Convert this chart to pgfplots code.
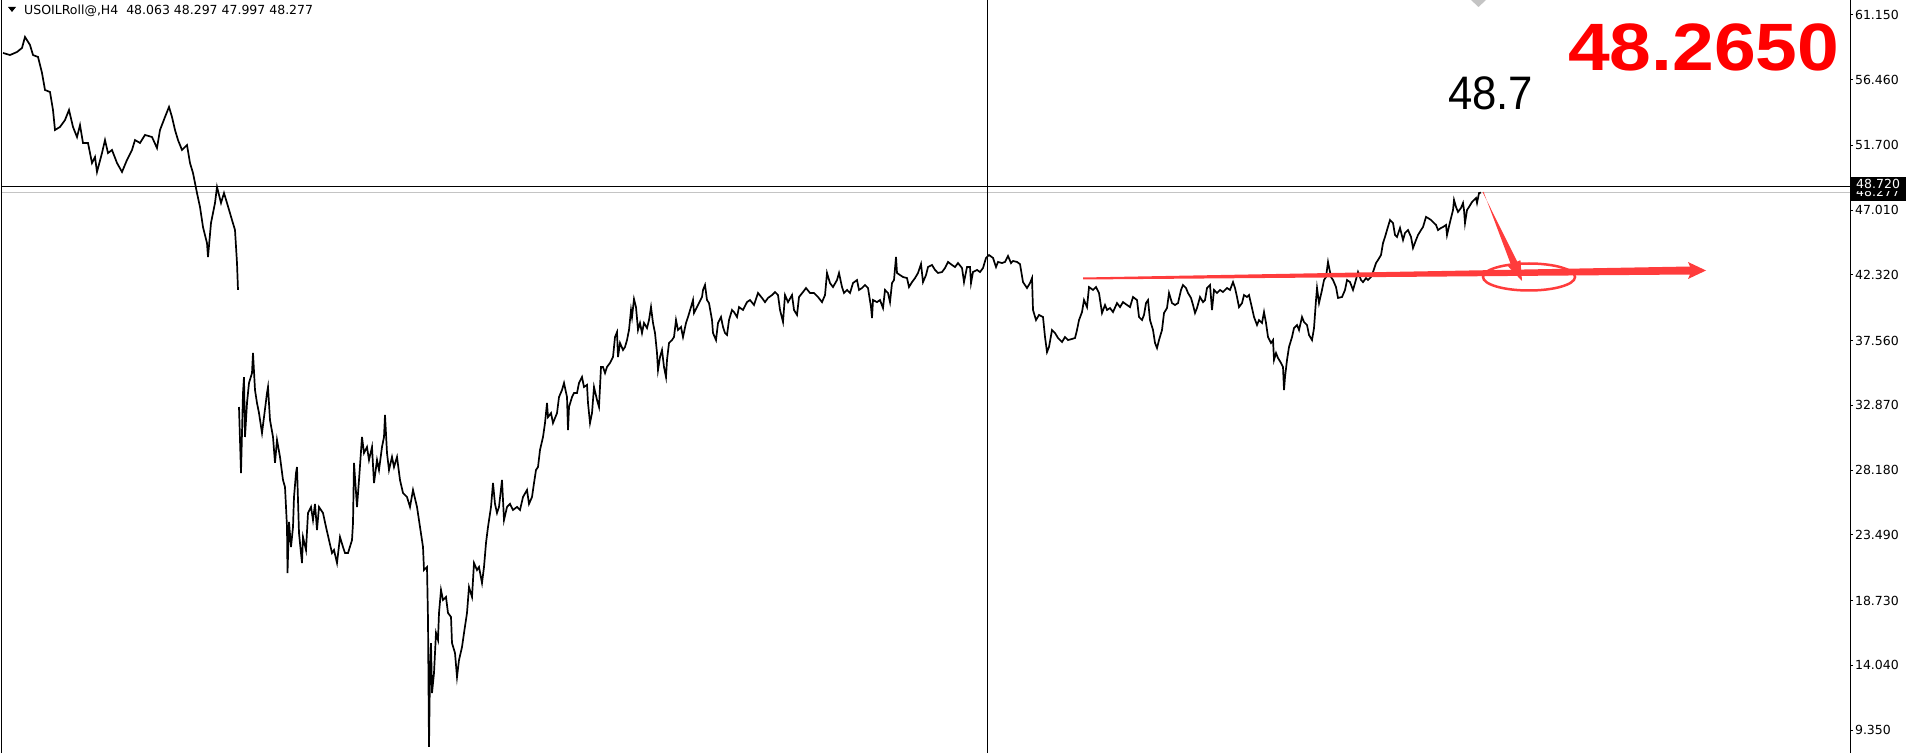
\documentclass[border=0pt]{standalone}
\usepackage{fontspec}
\setmainfont{DejaVu Sans}
\newfontfamily\arialfont{Liberation Sans}
\usepackage{graphicx}
\usepackage{pgfplots}
\usepackage{pgfplotstable}
\pgfplotsset{compat=1.18}
\definecolor{annot}{HTML}{FF3C3C}
\definecolor{bidline}{HTML}{C4C4C4}

% x = bar position (one unit per screen pixel), y = price
\pgfplotstableread{
x y
3 58.40
10 58.25
17 58.47
22 58.76
25 59.56
30 58.98
33 58.25
38 58.11
42 56.95
45 55.72
50 55.57
53 54.27
55 52.82
60 53.04
65 53.54
69 54.27
73 53.04
77 52.31
80 53.18
83 51.88
88 51.88
92 50.43
95 50.86
97 49.78
102 51.15
105 52.09
108 51.15
112 51.37
117 50.43
122 49.78
127 50.65
132 51.37
135 52.09
140 51.88
145 52.46
152 52.31
157 51.51
160 52.82
165 53.76
169 54.49
172 53.76
175 52.82
178 52.09
182 51.37
187 51.73
190 50.43
193 49.70
197 48.25
200 47.24
203 45.79
207 44.63
208 43.62
211 46.08
215 47.53
217 48.69
221 47.53
224 48.25
227 47.53
232 46.30
235 45.57
237 43.18
238 41.23
238.5 nan
239 32.75
241 27.97
243 33.76
244 34.92
245 30.58
247 33.04
249 34.49
252 35.21
253 36.66
255 33.98
257 33.04
259 32.31
262 30.87
264 32.02
267 33.76
268 34.20
270 31.81
273 30.58
275 28.70
277 30.36
280 29.13
283 27.46
285 26.95
287 24.06
287.5 20.72
289 24.42
291 22.61
293 24.06
294 26.23
296 27.97
297 28.40
298 26.01
299 23.62
302 21.45
303 23.33
306 22.39
308 25.07
311 25.51
313 24.56
315 25.73
317 23.84
319 25.51
323 25.07
326 24.06
329 23.11
332 22.17
334 22.39
337 21.45
340 23.33
343 22.61
345 22.17
348 22.17
352 23.11
353 24.35
354 28.70
357 25.51
359 27.46
362 30.58
364 29.42
367 29.85
369 28.91
372 29.85
374 27.24
377 28.91
379 28.19
382 29.85
384 30.58
385 32.17
387 29.42
389 28.19
392 29.13
394 28.40
397 29.13
400 27.46
403 26.52
407 26.23
410 25.51
413 26.74
417 25.51
420 24.06
423 22.61
424 20.94
427 21.16
428 17.32
429 8.12
430 13.69
431 15.65
432 12.03
434 13.48
436 16.38
438 15.87
439 17.83
441 19.49
443 18.77
446 18.99
448 17.83
451 17.54
452 15.65
455 14.93
457 13.19
459 14.42
462 15.36
464 16.38
467 17.83
469 19.71
472 18.99
474 21.45
477 20.94
479 21.16
482 20.00
484 21.16
486 22.90
488 24.06
491 25.51
493 27.24
495 25.73
497 25.07
499 25.51
502 27.46
504 24.56
507 25.51
510 25.73
513 25.29
517 25.51
520 25.29
523 26.23
527 26.74
529 25.73
532 26.23
534 27.24
536 28.19
538 28.40
540 29.64
543 30.58
545 31.59
547 33.04
548 32.02
551 32.31
553 31.59
557 32.31
559 33.47
562 33.98
564 34.49
567 33.47
568 31.08
569 32.75
572 33.47
574 33.76
577 33.76
579 34.49
582 34.92
584 34.20
587 34.35
588 33.04
590 31.59
592 32.31
594 34.20
597 33.26
599 32.75
601 35.65
603 35.65
605 35.21
607 35.65
610 35.94
613 36.37
615 37.82
617 38.18
618 36.37
620 37.39
623 36.88
625 37.10
627 37.60
629 38.33
631 39.78
632 39.27
634 40.57
636 39.99
638 38.33
640 38.84
642 38.11
644 38.84
647 38.47
649 39.05
651 39.99
653 38.84
655 38.11
657 36.66
658 35.43
660 36.37
662 36.88
664 35.65
666 34.92
667 36.16
669 37.39
672 37.60
674 37.82
676 39.05
678 38.33
681 38.55
683 37.82
686 38.84
688 39.27
691 39.99
693 40.50
694 39.56
697 39.99
699 40.28
702 40.72
703 41.23
705 41.59
707 40.50
709 40.28
712 39.05
713 38.11
716 37.60
718 38.84
721 39.27
723 38.55
725 38.11
727 37.97
729 39.05
732 39.78
734 39.63
737 39.27
739 39.99
743 39.78
747 40.35
750 40.50
754 40.14
758 41.01
762 40.65
765 40.35
768 40.65
772 40.86
775 41.08
778 40.86
780 39.78
783 38.91
785 40.86
788 40.35
792 40.86
794 39.78
797 39.42
799 40.72
803 41.08
806 41.37
810 41.01
814 41.01
818 40.72
822 40.35
825 40.86
827 42.46
830 41.73
833 41.44
837 41.95
839 42.46
842 41.44
844 41.01
847 41.23
850 41.01
853 41.73
857 41.95
859 41.23
862 41.37
865 41.59
868 41.37
871 39.99
872 39.20
873 40.50
877 40.35
880 40.50
883 39.92
885 41.23
888 41.01
890 40.35
892 41.73
894 41.95
896 43.62
897 42.46
900 42.31
903 42.17
907 42.09
909 41.44
912 41.80
915 42.09
918 42.46
921 43.11
923 41.80
926 42.31
928 42.89
932 43.04
935 42.68
938 42.46
942 42.53
945 42.82
948 43.26
952 43.04
955 42.89
958 43.18
962 42.82
964 41.80
967 42.89
970 42.89
971 41.73
973 42.53
977 42.68
980 42.53
983 42.82
986 43.55
989 43.76
993 43.55
996 42.89
998 43.26
1002 43.18
1005 43.26
1008 43.69
1011 43.18
1013 43.33
1017 43.26
1020 43.10
1023 41.80
1027 41.37
1030 41.73
1032 42.09
1033 39.78
1036 39.05
1039 39.42
1043 39.27
1045 37.82
1047 36.73
1049 37.10
1052 38.33
1055 38.11
1058 37.75
1062 37.46
1065 37.82
1068 37.60
1072 37.68
1075 37.75
1077 38.33
1079 39.05
1082 39.63
1084 40.50
1087 39.99
1089 41.44
1093 41.23
1096 41.44
1099 41.01
1102 39.56
1105 40.14
1107 39.78
1110 39.92
1113 39.63
1117 40.28
1120 39.99
1123 40.35
1127 40.14
1130 39.99
1133 40.72
1137 40.50
1139 39.27
1142 39.05
1144 39.42
1146 40.28
1148 40.50
1150 39.05
1153 38.33
1155 37.39
1157 37.02
1159 37.60
1162 38.33
1164 39.56
1167 39.92
1169 41.01
1172 40.28
1175 40.14
1178 40.28
1181 41.23
1183 41.59
1186 41.37
1188 41.01
1191 40.65
1193 40.14
1195 39.56
1197 39.92
1200 40.72
1203 40.35
1205 40.50
1207 41.37
1210 41.59
1212 39.78
1214 41.23
1217 41.01
1220 41.23
1223 41.08
1227 41.37
1230 41.23
1233 41.80
1235 41.37
1237 40.72
1239 39.99
1242 40.28
1244 40.86
1247 40.72
1249 40.86
1252 39.92
1254 39.27
1257 38.69
1259 39.05
1262 38.84
1264 39.63
1266 38.84
1268 37.82
1271 37.39
1273 37.60
1274 36.16
1276 36.66
1278 36.30
1281 35.94
1283 35.65
1284 33.98
1285 34.92
1287 36.16
1289 37.10
1292 37.82
1294 38.47
1297 38.69
1299 38.33
1302 39.27
1304 38.91
1307 38.69
1309 37.97
1312 37.60
1314 38.47
1316 40.50
1317 41.37
1319 40.28
1322 41.23
1324 41.95
1326 42.17
1328 43.26
1331 42.17
1333 41.95
1336 41.44
1338 40.65
1342 40.72
1345 41.23
1347 41.95
1350 41.80
1353 41.23
1355 41.73
1358 42.53
1361 41.95
1363 41.80
1366 42.09
1368 41.95
1371 42.17
1373 42.53
1376 43.18
1378 43.40
1381 43.76
1383 44.63
1385 45.07
1387 45.57
1390 46.30
1393 46.08
1395 45.21
1397 45.07
1400 45.72
1403 44.85
1405 45.36
1408 45.57
1411 45.07
1413 44.27
1416 44.85
1418 45.21
1421 45.57
1423 45.79
1426 46.52
1428 46.44
1431 46.30
1433 46.15
1436 45.94
1438 45.57
1441 45.72
1443 45.79
1446 45.94
1447 45.21
1450 46.15
1453 47.02
1454 47.75
1456 47.24
1458 46.88
1461 47.17
1463 47.53
1464 47.02
1465 46.08
1467 47.02
1469 47.24
1472 47.60
1474 47.75
1476 47.89
1477 47.53
1479 48.25
1481 48.28
}\pricedata

\begin{document}
\begin{tikzpicture}
\begin{axis}[
  at={(2pt,0pt)}, anchor=south west,
  scale only axis,
  width=1848pt, height=753pt,
  xmin=2, xmax=1850,
  ymin=7.684, ymax=62.237,
  enlargelimits=false,
  separate axis lines,
  x axis line style={draw=none},
  y axis line style={draw=black, line width=1pt},
  xtick=\empty,
  ytick={9.35,14.04,18.73,23.49,28.18,32.87,37.56,42.32,47.01,51.70,56.46,61.15},
  yticklabels={9.350,14.040,18.730,23.490,28.180,32.870,37.560,42.320,47.010,51.700,56.460,61.150},
  ytick pos=right,
  yticklabel pos=right,
  tick align=outside,
  major tick length=3pt,
  tick style={black, line width=1pt},
  yticklabel style={font=\fontsize{12.5}{14}\selectfont, text=black, xshift=-1.5pt},
  unbounded coords=jump,
  clip=false,
]
% price lines and cursor
\draw[bidline, line width=1pt] (axis cs:2,48.277) -- (axis cs:1850,48.277);
\draw[black, line width=1pt] (axis cs:2,48.72) -- (axis cs:1850,48.72);
\draw[black, line width=1pt] (axis cs:987,7.684) -- (axis cs:987,62.237);

\addplot[black, line width=1.7pt, line join=miter] table[x=x, y=y] {\pricedata};
\end{axis}

% annotations, in screen pixels (y downwards)
\begin{scope}[x=1pt, y=-1pt, yshift=753pt]
  % header
  \fill[black] (8,7) -- (16,7) -- (12,12) -- cycle;
  \node[anchor=base west, inner sep=0pt, font=\fontsize{12.5}{14}\selectfont]
    at (24,15) {USOILRoll@,H4\ \ 48.063 48.297 47.997 48.277};
  % faded marker at top
  \fill[bidline] (1471,0) -- (1486,0) -- (1478.5,7) -- cycle;
  % price tags on the scale
  \fill[black] (1851,189) rectangle (1906,201);
  \node[anchor=base west, inner sep=0pt, text=white, font=\fontsize{12.5}{14}\selectfont] at (1856,196.5) {48.277};
  \fill[black] (1851,177) rectangle (1906,191.5);
  \node[anchor=base west, inner sep=0pt, text=white, font=\fontsize{12.5}{14}\selectfont] at (1856,188.5) {48.720};
  % big quotes
  \node[anchor=base west, inner sep=0pt, text=red, font=\arialfont\bfseries\fontsize{67}{67}\selectfont]
    at (1568,71) {\scalebox{1.12}[1]{48.2650}};
  \node[anchor=base west, inner sep=0pt, text=black, font=\arialfont\fontsize{47}{47}\selectfont]
    at (1448,110) {\scalebox{0.93}[1]{48.7}};
  % hand drawn marks
  \draw[annot, line width=2.5pt] (1529,277) ellipse [x radius=46, y radius=13.5];
  \fill[annot] (1083,277.5) -- (1690,266.5) -- (1688,262) -- (1706,270.5)
    -- (1688,279) -- (1690,274.5) -- (1083,279.5) -- cycle;
  \fill[annot] (1482.6,192.2) -- (1517.2,261.6) -- (1520.4,260.2) -- (1522,281)
    -- (1507.6,265.8) -- (1510.8,264.4) -- (1483.5,191.8) -- cycle;
\end{scope}
\pgfresetboundingbox
\path[use as bounding box] (0,0) rectangle (1910pt,753pt);
\end{tikzpicture}
\end{document}
